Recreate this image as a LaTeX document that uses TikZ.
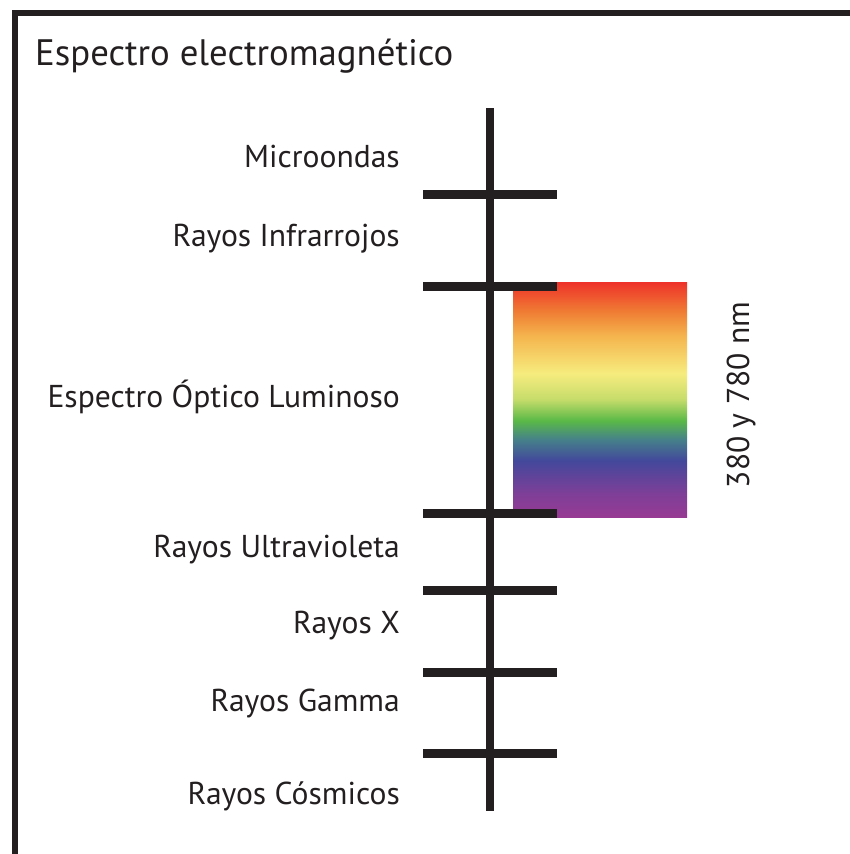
\documentclass[tikz,border=0pt]{standalone}
\usepackage{fontspec}
\setmainfont{PT Sans}
\begin{document}
\definecolor{ink}{HTML}{231F20}
\definecolor{c0}{HTML}{973A93}
\definecolor{c1}{HTML}{7E3F98}
\definecolor{c2}{HTML}{43489B}
\definecolor{c3}{HTML}{45818A}
\definecolor{c4}{HTML}{5AB947}
\definecolor{c5}{HTML}{C5DC6A}
\definecolor{c6}{HTML}{F6EC7E}
\definecolor{c7}{HTML}{F5B54E}
\definecolor{c8}{HTML}{EF7F34}
\definecolor{c9}{HTML}{EE312A}
\pgfdeclareverticalshading{rainbow}{100bp}{color(0bp)=(c0); color(25bp)=(c0); color(30bp)=(c1); color(37bp)=(c2); color(41.5bp)=(c3); color(45.5bp)=(c4); color(50bp)=(c5); color(55.5bp)=(c6); color(63.5bp)=(c7); color(68.5bp)=(c8); color(75bp)=(c9); color(100bp)=(c9)}
\begin{tikzpicture}[x=1pt,y=-1pt,
  lbl/.style={anchor=base east, inner sep=0pt, text=ink, font=\fontsize{31.6}{38}\selectfont},
  tick/.style={line width=9pt, draw=ink},
  axisline/.style={line width=8pt, draw=ink},
  frame/.style={line width=6pt, draw=ink, miter limit=10}]
\useasboundingbox (0,0) rectangle (850,854);
\draw[frame] (15,860) -- (15,13) -- (856,13);
\node[anchor=base west, inner sep=0pt, text=ink, font=\fontsize{36.8}{44}\selectfont] (title) at (35,65) {Espectro electromagnético};
% gradient
\shade[shading=rainbow] (513,282) rectangle (687,517);
% axis
\coordinate (atop) at (490,108);
\coordinate (abot) at (490,811);
\draw[axisline] (atop) -- (abot);
\foreach \y/\n in {194/t1,286/t2,513/t3,590/t4,672/t5,753/t6}{
  \coordinate (\n l) at (423,\y);
  \coordinate (\n r) at (557,\y);
  \draw[tick] (\n l) -- (\n r);
}
\node[lbl] (mw) at (400,167) {Microondas};
\node[lbl] (ir) at (400,246) {Rayos Infrarrojos};
\node[lbl] (op) at (400,407) {Espectro Óptico Luminoso};
\node[lbl] (uv) at (400,557) {Rayos Ultravioleta};
\node[lbl] (rx) at (400,633) {Rayos X};
\node[lbl] (rg) at (400,711) {Rayos Gamma};
\node[lbl] (rc) at (400,804) {Rayos Cósmicos};
\node[rotate=90, inner sep=0pt, text=ink, font=\fontsize{31.6}{38}\selectfont] (nm) at (741,395) {380 y 780 nm};
\end{tikzpicture}
\end{document}
